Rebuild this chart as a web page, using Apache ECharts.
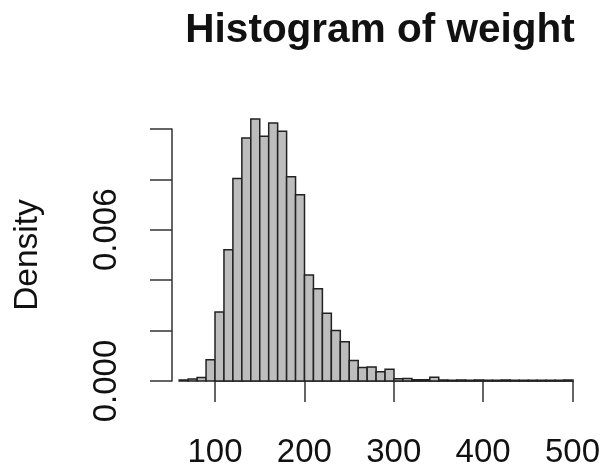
<!DOCTYPE html>
<html>
<head>
<meta charset="utf-8">
<script src="https://cdn.jsdelivr.net/npm/echarts@6/dist/echarts.min.js"></script>
<style>
html,body{margin:0;padding:0;background:#fff;}
#chart{width:603px;height:469px;}
</style>
</head>
<body>
<div id="chart"></div>
<script>
// Histogram data: bin start (weight) and density, bin width 10
const binStarts = [60,70,80,90,100,110,120,130,140,150,160,170,180,190,200,210,220,230,240,250,260,270,280,290,300,310,320,330,340,350,360,370,380,390,400,410,420,430,440,450,460,470,480,490];
const binWidth = 10;
const densities = [0.00004,0.00008,0.00014,0.00084,0.00274,0.00521,0.00804,0.00964,0.0104,0.00971,0.01024,0.00991,0.00811,0.00739,0.00421,0.00366,0.00269,0.00200,0.00156,0.00081,0.00054,0.00056,0.00037,0.00047,0.00009,0.00010,0.00005,0.00005,0.00015,0.00004,0.00003,0.00004,0.00003,0.00004,0.00003,0.00003,0.00004,0.00003,0.00003,0.00003,0.00003,0.00003,0.00003,0.00004];
const xTicks = [100,200,300,400,500];
const yTicks = [0,0.002,0.004,0.006,0.008,0.010];
const yLabelsShown = ['0.000','0.006'];
const titleText = 'Histogram of weight';
const yName = 'Density';

const font = 'Liberation Sans, Arial, Helvetica, sans-serif';
const data = binStarts.map((s,i)=>[s, s+binWidth, densities[i]]);

const chart = echarts.init(document.getElementById('chart'));
chart.setOption({
  animation:false,
  backgroundColor:'#fff',
  title:{text:titleText,left:375,textAlign:'center',top:5,
    textStyle:{fontFamily:font,fontSize:40.5,fontWeight:'bold',color:'#111'}},
  grid:[
    {left:179.2,right:30,top:103.8,bottom:88},
    {left:215,right:30,top:300,bottom:88},
    {left:172,right:30,top:129,bottom:88}
  ],
  xAxis:[
    {gridIndex:0,type:'value',min:60,max:500,show:false},
    {gridIndex:1,type:'value',min:xTicks[0],max:xTicks[xTicks.length-1],interval:100,offset:11,
      axisLine:{show:true,lineStyle:{color:'#333',width:1.5}},
      axisTick:{show:true,length:21,lineStyle:{color:'#333',width:1.5}},
      splitLine:{show:false},
      axisLabel:{margin:44,fontFamily:font,fontSize:33,color:'#111',showMinLabel:true,showMaxLabel:true}},
    {gridIndex:2,type:'value',min:0,max:1,show:false}
  ],
  yAxis:[
    {gridIndex:0,type:'value',min:0,max:0.011,show:false},
    {gridIndex:1,type:'value',show:false},
    {gridIndex:2,type:'value',min:yTicks[0],max:yTicks[yTicks.length-1],interval:0.002,
      name:yName,nameLocation:'middle',nameGap:127,nameRotate:90,
      nameTextStyle:{fontFamily:font,fontSize:33.5,color:'#111'},
      axisLine:{show:true,lineStyle:{color:'#333',width:1.5}},
      axisTick:{show:true,length:22,lineStyle:{color:'#333',width:1.5}},
      splitLine:{show:false},
      axisLabel:{rotate:90,margin:49,fontFamily:font,fontSize:33,color:'#111',
        formatter:v=>{const s=v.toFixed(3);return yLabelsShown.indexOf(s)>=0?s:'';}}}
  ],
  series:[{
    type:'custom',xAxisIndex:0,yAxisIndex:0,
    data:data,
    encode:{x:[0,1],y:2},
    renderItem:function(params,api){
      const p0=api.coord([api.value(0),api.value(2)]);
      const p1=api.coord([api.value(1),0]);
      return {type:'rect',
        shape:{x:p0[0],y:p0[1],width:p1[0]-p0[0],height:p1[1]-p0[1]},
        style:{fill:'#bdbdbd',stroke:'#222',lineWidth:1.5}};
    }
  }]
});
</script>
</body>
</html>
